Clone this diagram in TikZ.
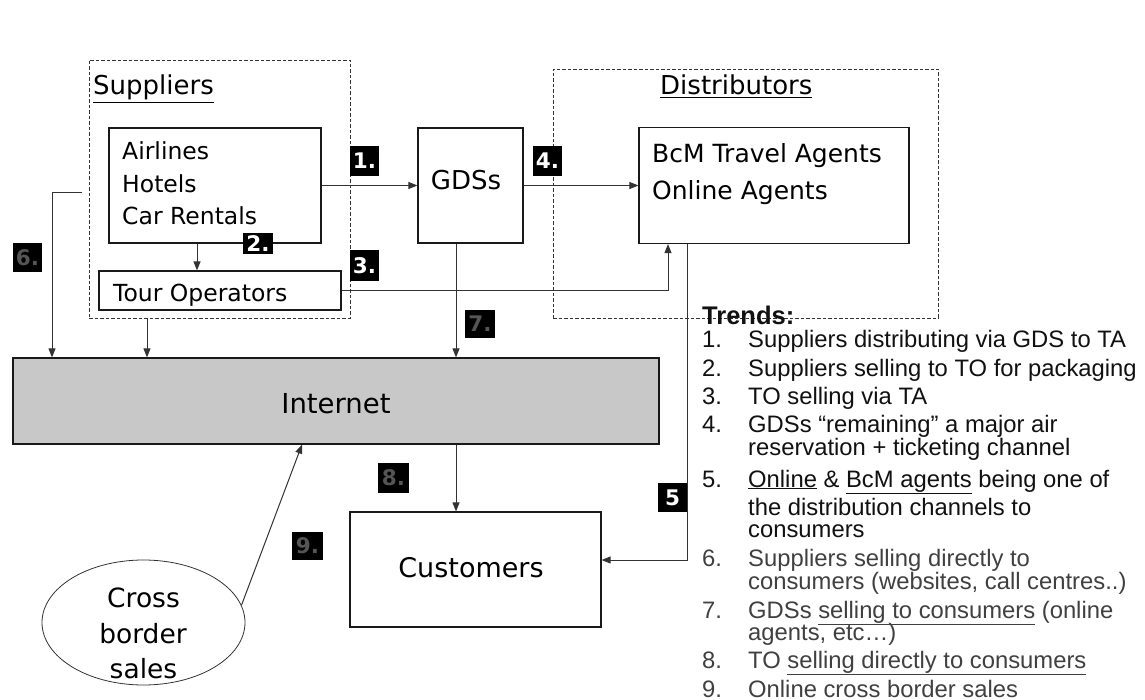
\documentclass[tikz,border=0pt]{standalone}
\usepackage{fontspec}
\usetikzlibrary{arrows.meta,shapes.geometric,calc}
\newfontfamily\dvs{DejaVu Sans}
\newfontfamily\lib{Liberation Sans}
\definecolor{ln}{HTML}{333333}
\definecolor{inetgray}{HTML}{C8C8C8}
\definecolor{tgray}{HTML}{555555}
\definecolor{itemgray}{HTML}{404040}
\definecolor{itemdark}{HTML}{111111}
\tikzset{
 box/.style={draw=black!90, line width=1.2pt, inner sep=0pt},
 grp/.style={draw=black!80, line width=0.9pt, dash pattern=on 3.5pt off 2pt, inner sep=0pt},
 conn/.style={draw=ln, line width=1pt, -{Triangle[length=9pt,width=7pt]}},
 tag/.style={fill=black, text=white, inner sep=0pt, font=\dvs\bfseries\fontsize{21.5}{21.5}\selectfont},
 tagg/.style={tag, text=tgray},
 lbl/.style={inner sep=0pt, anchor=base west, font=\dvs\fontsize{23.5}{28}\selectfont},
 lblc/.style={inner sep=0pt, anchor=base, font=\dvs\fontsize{26.5}{30}\selectfont},
 trd/.style={inner sep=0pt, anchor=base west, text=itemdark, font=\lib\fontsize{23.8}{26}\selectfont},
 trdg/.style={trd, text=itemgray},
}
\begin{document}
\begin{tikzpicture}[x=1pt,y=-1pt]
\useasboundingbox[fill=white] (0,0) rectangle (1145,700);

% groups
\node[grp, minimum width=261, minimum height=258] (sup) at (219.5,189) {};
\node[grp, minimum width=385, minimum height=249] (dist) at (745.5,193.5) {};

% boxes
\node[box, minimum width=212, minimum height=115] (airl) at (215,185.5) {};
\node[box, minimum width=242, minimum height=39] (tour) at (220,290.5) {};
\node[box, minimum width=105, minimum height=115] (gds) at (470.5,185.5) {};
\node[box, minimum width=270, minimum height=116] (bcm) at (774,185.5) {};
\node[box, fill=inetgray, minimum width=646, minimum height=86] (inet) at (336,401) {};
\node[box, minimum width=251, minimum height=115] (cust) at (475.5,569.5) {};
\node[draw=black!80, line width=0.8pt, ellipse, inner sep=0pt, minimum width=203, minimum height=125] (ell) at (143.5,622.5) {};

% box texts
\node[lbl, font=\dvs\fontsize{26}{30}\selectfont] (suptxt) at (93,95) {\underline{Suppliers}};
\node[lbl, font=\dvs\fontsize{26}{30}\selectfont] (disttxt) at (660,95) {\underline{Distributors}};
\node[lbl] (a1) at (122,160) {Airlines};
\node[lbl] (a2) at (122,193) {Hotels};
\node[lbl] (a3) at (122,225) {Car Rentals};
\node[lbl] (tourtxt) at (113,302) {Tour Operators};
\node[lblc, font=\dvs\fontsize{26}{30}\selectfont] (gdstxt) at (466,190) {GDSs};
\node[lbl, font=\dvs\fontsize{25}{30}\selectfont] (b1) at (652,163) {BcM Travel Agents};
\node[lbl, font=\dvs\fontsize{25}{30}\selectfont] (b2) at (652,200) {Online Agents};
\node[lblc, font=\dvs\fontsize{27.5}{30}\selectfont] (inettxt) at (336,413) {Internet};
\node[lblc, font=\dvs\fontsize{27}{30}\selectfont] (custtxt) at (471,577) {Customers};
\node[lblc] (e1) at (143.5,607) {Cross};
\node[lblc] (e2) at (143,643) {border};
\node[lblc] (e3) at (143.5,678) {sales};

% helper coordinates
\coordinate (x52) at (52,0);
\coordinate (x147) at (147,0);
\coordinate (x197) at (197,0);
\coordinate (x302) at (302,0);
\coordinate (x456) at (456,0);
\coordinate (x668) at (668,0);
\coordinate (s6) at (82,193);
\coordinate (k5) at (687,560);

% connectors
\draw[conn] (airl.east) -- (gds.west);
\draw[conn] (gds.east) -- (bcm.west);
\draw[conn] (x197 |- airl.south) -- (x197 |- tour.north);
\draw[conn] (tour.east) -| (x668 |- bcm.south);
\draw[conn] (s6) -| (x52 |- inet.north);
\draw[conn] (x147 |- sup.south) -- (x147 |- inet.north);
\draw[conn] (x456 |- gds.south) -- (x456 |- inet.north);
\draw[conn] (x456 |- inet.south) -- (x456 |- cust.north);
\draw[conn] (k5 |- bcm.south) -- (k5) -- (k5 -| cust.east);
\draw[conn] (ell.10) -- (x302 |- inet.south);

% tags
\node[tag, minimum width=29, minimum height=30] (t1) at (364.5,161) {1.};
\node[tag, minimum width=30, minimum height=21] (t2) at (258,243.5) {2.};
\node[tag, minimum width=29, minimum height=31] (t3) at (364.5,265.5) {3.};
\node[tag, minimum width=29, minimum height=30] (t4) at (547.5,161) {4.};
\node[tag, minimum width=29, minimum height=29] (t5) at (672.5,497.5) {5};
\node[tagg, minimum width=29, minimum height=29] (t6) at (27.5,257.5) {6.};
\node[tagg, minimum width=30, minimum height=28] (t7) at (480,324) {7.};
\node[tagg, minimum width=31, minimum height=30] (t8) at (393.5,478) {8.};
\node[tagg, minimum width=31, minimum height=28] (t9) at (307.5,546) {9.};

% trends
\node[trd, font=\lib\bfseries\fontsize{25.5}{28}\selectfont] (trh) at (702,325) {Trends:};
\node[trd] (n1) at (702,348) {1.};
\node[trd] (l1) at (748,348) {Suppliers distributing via GDS to TA};
\node[trd] (n2) at (702,376) {2.};
\node[trd] (l2) at (748,376) {Suppliers selling to TO for packaging};
\node[trd] (n3) at (702,404) {3.};
\node[trd] (l3) at (748,404) {TO selling via TA};
\node[trd] (n4) at (702,432) {4.};
\node[trd] (l4) at (748,432) {GDSs “remaining” a major air};
\node[trd] (l4b) at (748,455) {reservation + ticketing channel};
\node[trd] (n5) at (702,487) {5.};
\node[trd] (l5) at (748,487) {\underline{Online} \& \underline{BcM agents} being one of};
\node[trd] (l5b) at (748,515) {the distribution channels to};
\node[trd] (l5c) at (748,537) {consumers};
\node[trdg] (n6) at (702,566) {6.};
\node[trdg] (l6) at (748,566) {Suppliers selling directly to};
\node[trdg] (l6b) at (748,589) {consumers (websites, call centres..)};
\node[trdg] (n7) at (702,618) {7.};
\node[trdg] (l7) at (748,618) {GDSs \underline{selling to consumers} (online};
\node[trdg] (l7b) at (748,640) {agents, etc…)};
\node[trdg] (n8) at (702,668) {8.};
\node[trdg] (l8) at (748,668) {TO \underline{selling directly to consumers}};
\node[trdg] (n9) at (702,697) {9.};
\node[trdg] (l9) at (748,697) {Online cross border sales};
\end{tikzpicture}
\end{document}
